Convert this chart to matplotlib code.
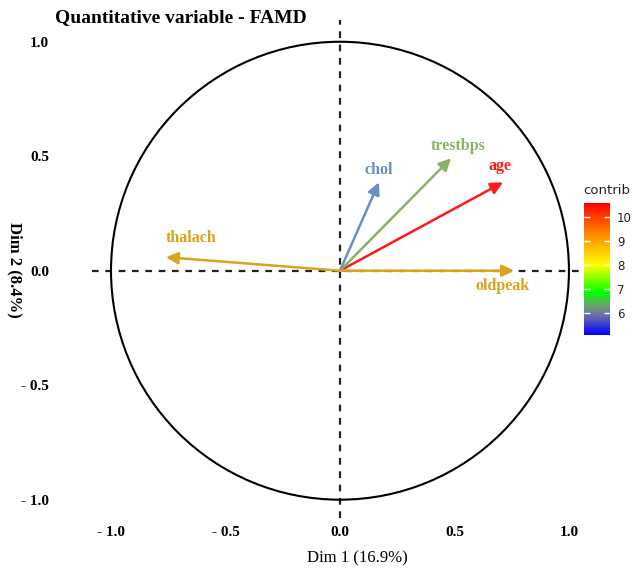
import numpy as np
import matplotlib
matplotlib.use("Agg")
import matplotlib.pyplot as plt
from matplotlib.colors import LinearSegmentedColormap, Normalize
from matplotlib.patches import Circle, FancyArrowPatch
from matplotlib.cm import ScalarMappable

# --- Données (coordonnées des variables quantitatives sur Dim 1 / Dim 2) ---
variables = ["age", "trestbps", "chol", "oldpeak", "thalach"]
dim1 = [0.712, 0.485, 0.170, 0.760, -0.760]
dim2 = [0.386, 0.491, 0.386, 0.000, 0.059]
couleurs = ["#FF1A1A", "#86B366", "#6C8EC4", "#D9A31C", "#D9A31C"]

# décalage des étiquettes (points) par rapport à la pointe de la flèche
decal_x = [-2, 5, 0, -8, 18]
decal_y = [12, 9, 9, -11, 14]

contrib_min, contrib_max = 5.1, 10.6
contrib_ticks = [6, 7, 8, 9, 10]

# --- Figure ---
fig = plt.figure(figsize=(6.33, 5.71), dpi=100)
ax = fig.add_axes([92 / 633, 1 - 518 / 571, 498 / 633, 498 / 571])
ax.set_xlim(-1.083, 1.092)
ax.set_ylim(-1.08, 1.095)
ax.set_aspect("equal", adjustable="datalim")

serif = "Liberation Serif"

ax.axhline(0, color="#222222", ls=(0, (3, 3)), lw=1.6, zorder=1)
ax.axvline(0, color="#222222", ls=(0, (3, 3)), lw=1.6, zorder=1)
ax.add_patch(Circle((0, 0), 1.0, fill=False, color="black", lw=1.5, zorder=2))

for nom, x, y, c, dx, dy in zip(variables, dim1, dim2, couleurs, decal_x, decal_y):
    fleche = FancyArrowPatch((0, 0), (x, y), arrowstyle="-|>", mutation_scale=18,
                             color=c, lw=1.8, shrinkA=0, shrinkB=0, zorder=3)
    ax.add_patch(fleche)
    ax.annotate(nom, (x, y), xytext=(dx, dy), textcoords="offset points",
                ha="center", va="center", color=c, fontsize=11.5,
                fontweight="bold", family=serif)

ticks = [-1.0, -0.5, 0.0, 0.5, 1.0]
labels = ["- 1.0", "- 0.5", "0.0", "0.5", "1.0"]
ax.set_xticks(ticks)
ax.set_xticklabels(labels)
ax.set_yticks(ticks)
ax.set_yticklabels(labels)
for lab in ax.get_xticklabels() + ax.get_yticklabels():
    lab.set_family(serif)
    lab.set_fontweight("bold")
    lab.set_fontsize(11)
ax.tick_params(axis="x", length=0, pad=6)
ax.tick_params(axis="y", length=0, pad=31)
for s in ax.spines.values():
    s.set_visible(False)

fig.text(357 / 633, 1 - 558 / 571, "Dim 1 (16.9%)", ha="center", va="center",
         family=serif, fontsize=12)
fig.text(15 / 633, 1 - 270 / 571, "Dim 2 (8.4%)", ha="center", va="center",
         rotation=270, family=serif, fontsize=12, fontweight="bold")
fig.text(55 / 633, 1 - 18 / 571, "Quantitative variable - FAMD", ha="left",
         va="center", family=serif, fontsize=14, fontweight="bold")

# --- Barre de couleur ---
cmap = LinearSegmentedColormap.from_list("contrib", [
    (0.0, "#0000FF"), (0.14, "#6868B0"), (0.22, "#6CA06C"), (0.32, "#00FF00"),
    (0.53, "#FFFF00"), (0.76, "#FF8C00"), (1.0, "#FF0000")])
cax = fig.add_axes([584 / 633, 1 - 335 / 571, 26 / 633, 132 / 571])
sm = ScalarMappable(norm=Normalize(contrib_min, contrib_max), cmap=cmap)
cb = fig.colorbar(sm, cax=cax, ticks=contrib_ticks)
cb.outline.set_visible(False)
cax.tick_params(direction="in", length=4, width=1, colors="white",
                left=True, right=True, labelsize=8.5)
for lab in cax.get_yticklabels():
    lab.set_color("#222222")
cax.tick_params(pad=5)
fig.text(583 / 633, 1 - 190 / 571, "contrib", ha="left", va="center",
         fontsize=9.5, color="#222222")

fig.savefig("out.png", dpi=100)
